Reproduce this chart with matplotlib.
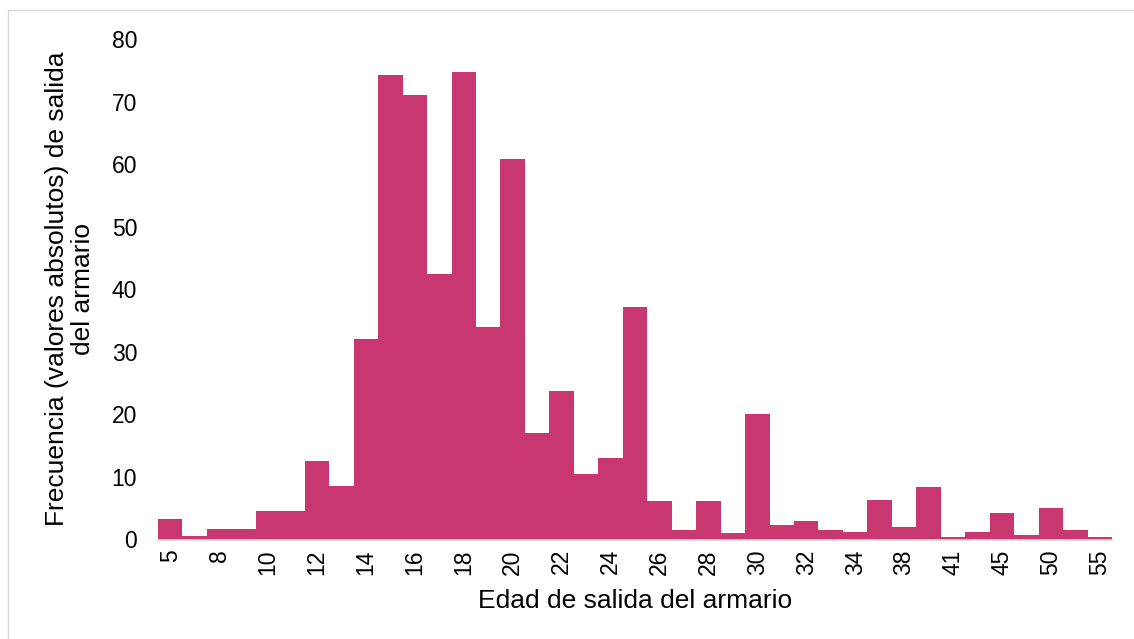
import matplotlib
matplotlib.use("Agg")
import matplotlib.pyplot as plt
from matplotlib.lines import Line2D

categories = ["5", "6", "8", "9", "10", "11", "12", "13", "14", "15", "16", "17", "18", "19",
              "20", "21", "22", "23", "24", "25", "26", "27", "28", "29", "30", "31", "32", "33",
              "34", "36", "38", "40", "41", "43", "45", "48", "50", "52", "55"]
values = [3.2, 0.5, 1.6, 1.7, 4.5, 4.6, 12.6, 8.6, 32.1, 74.2, 71.0, 42.4, 74.7, 33.9,
          60.8, 17.0, 23.7, 10.4, 13.0, 37.1, 6.2, 1.5, 6.2, 1.05, 20.0, 2.3, 2.9, 1.44,
          1.2, 6.3, 2.0, 8.4, 0.45, 1.2, 4.2, 0.65, 5.0, 1.5, 0.45]
y_ticks = [0, 10, 20, 30, 40, 50, 60, 70, 80]

plt.rcParams['font.family'] = ['Liberation Sans', 'DejaVu Sans']

W, H = 1134, 639
fig = plt.figure(figsize=(W / 100, H / 100), dpi=100)
ax = fig.add_axes([158 / W, 1 - 539.5 / H, (1112 - 158) / W, (539.5 - 39) / H])

x = list(range(len(categories)))
ax.bar(x, values, width=1.0, color="#C8376F", linewidth=0)

ax.set_xlim(-0.5, len(categories) - 0.5)
ax.set_ylim(0, 80)
ax.set_yticks(y_ticks)
ax.set_yticklabels([str(t) for t in y_ticks], fontsize=16.5)
shown = x[::2]
ax.set_xticks(shown)
ax.set_xticklabels([categories[i] for i in shown], rotation=90, fontsize=16.5)
ax.tick_params(axis='both', length=0, colors='black')
ax.tick_params(axis='y', pad=15)
ax.tick_params(axis='x', pad=7)

for s in ['top', 'right', 'left']:
    ax.spines[s].set_visible(False)
ax.spines['bottom'].set_color('#D9D9D9')
ax.spines['bottom'].set_linewidth(1.2)

ax.set_xlabel("Edad de salida del armario", fontsize=19, labelpad=10)
ax.set_ylabel("Frecuencia (valores absolutos) de salida\ndel armario", fontsize=19,
              labelpad=12, linespacing=1.1)

# figure frame (top and left visible)
fig.add_artist(Line2D([8 / W, 1.0], [1 - 10 / H, 1 - 10 / H], transform=fig.transFigure,
                      color='#D9D9D9', linewidth=1.0))
fig.add_artist(Line2D([8 / W, 8 / W], [1 - 10 / H, 0.0], transform=fig.transFigure,
                      color='#D9D9D9', linewidth=1.0))

fig.savefig("out.png", dpi=100)
